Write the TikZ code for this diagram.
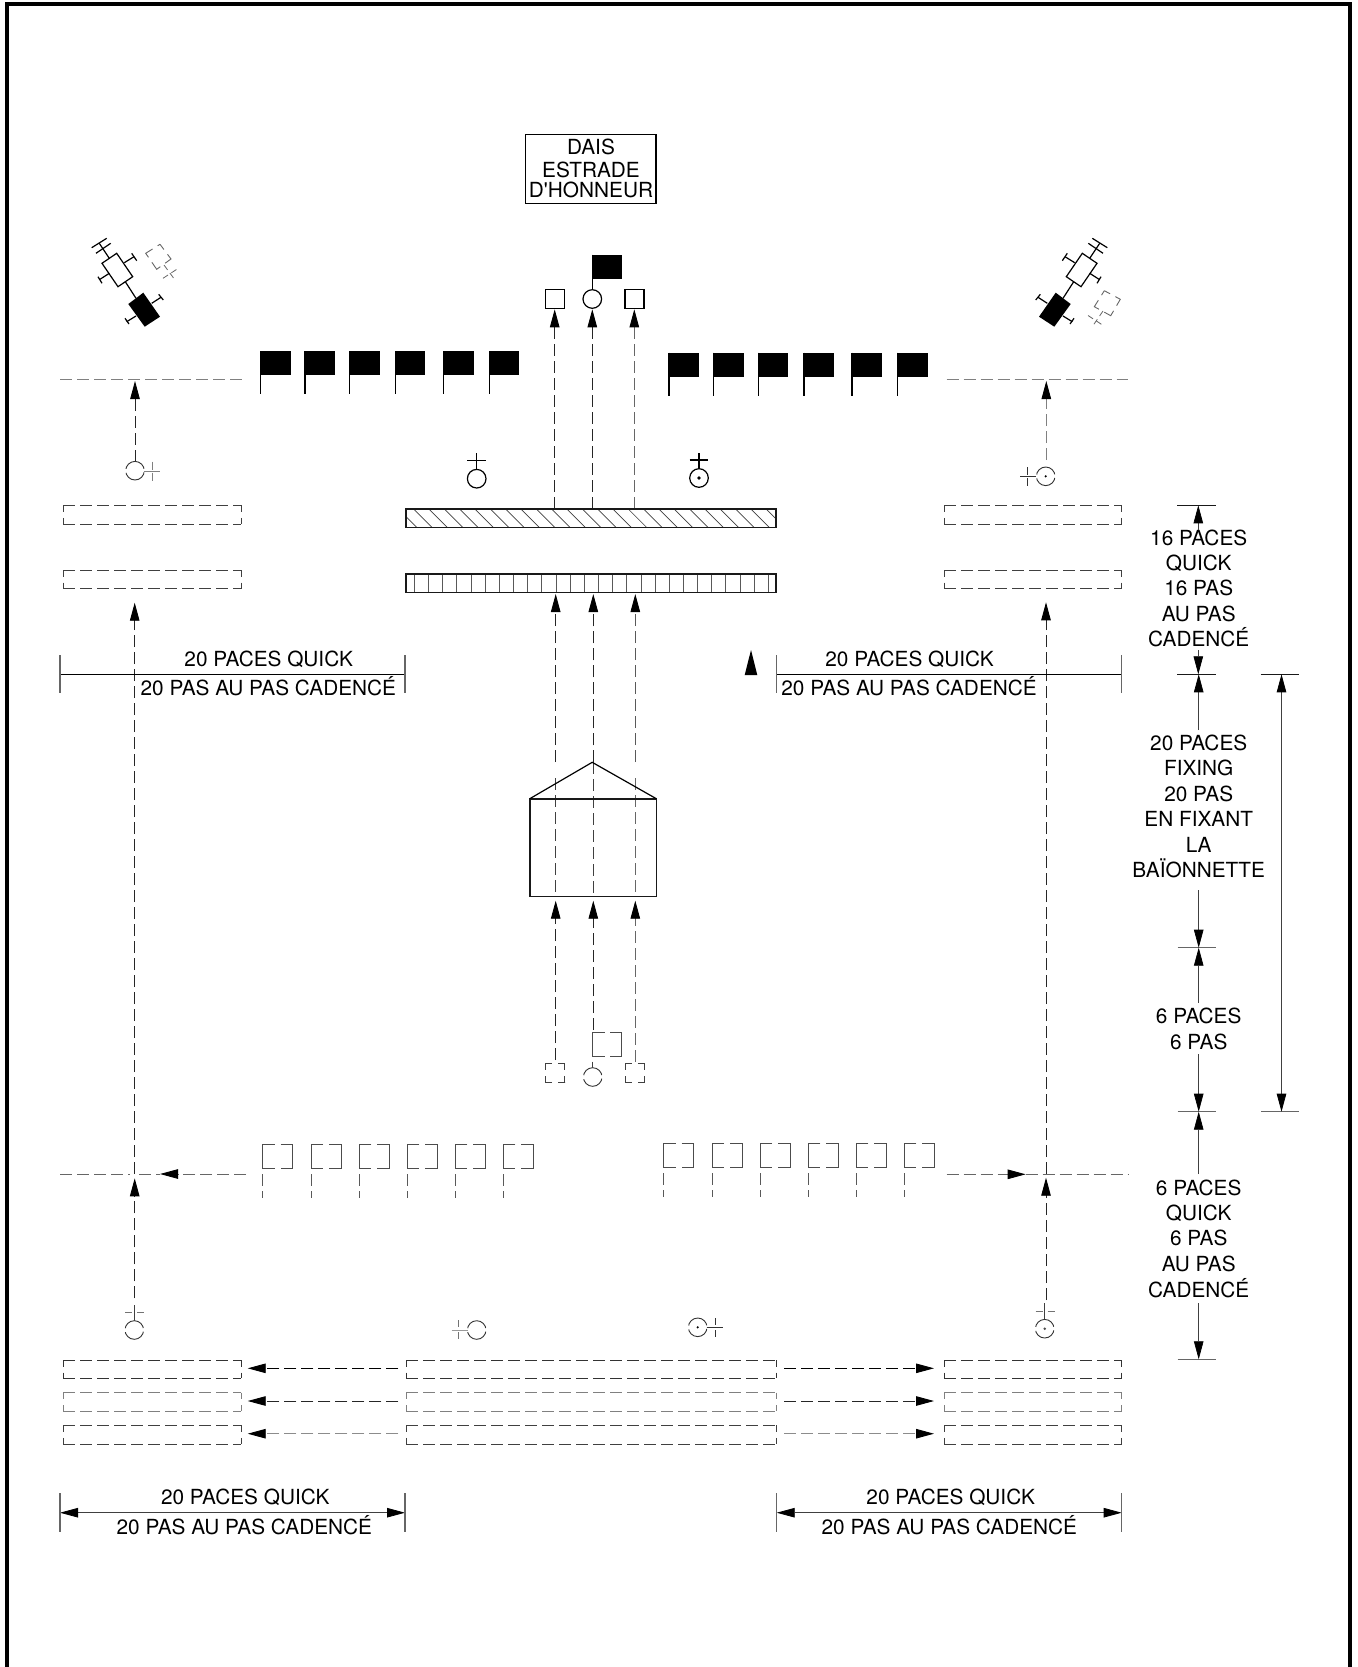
\documentclass[tikz,border=0pt]{standalone}
\usepackage{fontspec}
\setmainfont{TeX Gyre Heros}[Ligatures=TeXOff]
\usetikzlibrary{arrows.meta}
\tikzset{
  every node/.style={inner sep=0pt,outer sep=0pt,font=\fontsize{20.8}{24}\selectfont,align=center,text height=14.9pt,text depth=0pt},
  thin line/.style={line width=0.8pt,black!80},
  solid line/.style={line width=1.2pt,black},
  heavy line/.style={line width=1.6pt,black!90},
  dash line/.style={line width=0.9pt,black!75,dash pattern=on 12pt off 5pt},
  faint/.style={black!50},
  tick side/.style={line width=0.9pt,black!75,dash pattern=on 6.5pt off 6pt on 6.5pt off 0pt},
  pole line/.style={line width=0.9pt,black!65,dash pattern=on 12pt off 5pt on 6pt off 0pt},
  ring dash/.style={line width=0.9pt,black!80,dash pattern=on 25.2pt off 4pt,dash phase=27.2pt},
  blk/.tip={Triangle[length=18pt,width=9.5pt,sep=0pt,fill=black,color=black]},
  tip/.style={-{blk}},
  dimtip/.style={line width=0.7pt,black!75,-{blk}},
  dimboth/.style={line width=0.8pt,black!75,{blk}-{blk}},
  flat bar/.style={line width=1.2pt,black!60},
  move/.style={dash line,black!85,tip},
}
\newcommand{\blackflag}[2]{%
  \fill (#1,#2) rectangle ++(30,24.3);
  \draw[solid line] (#1,#2) -- ++(0,43);
}
\newcommand{\ghostflag}[2]{%
  \draw[line width=0.9pt,black!70] (#1+12,#2) -- (#1,#2) -- (#1,#2+24) -- (#1+12,#2+24);
  \draw[line width=0.9pt,black!70] (#1+18,#2) -- (#1+30,#2) -- (#1+30,#2+24) -- (#1+18,#2+24);
  \draw[pole line] (#1,#2+30) -- ++(0,23.5);
}
\newcommand{\ghostbar}[5][]{%
  \draw[dash line,#1] (#2,#3) -- (#4,#3);
  \draw[dash line,#1] (#2,#5) -- (#4,#5);
  \draw[tick side,#1] (#2,#3) -- (#2,#5);
  \draw[tick side,#1] (#4,#3) -- (#4,#5);
}
\newcommand{\ghostsq}[2]{%
  \draw[tick side] (#1,#2) -- ++(19,0) -- ++(0,19) -- ++(-19,0) -- cycle;
}
\newcommand{\partygroup}{%
  \draw[solid line,fill=white] (116.7,253.3) -- (132.7,276.7) -- (118,286.7) -- (102,263.3) -- cycle;
  \fill (143.3,292.7) -- (160,316.7) -- (144.7,326.7) -- (128.3,304) -- cycle;
  \draw[solid line] (125.3,281.7) -- (136,298.3);
  \draw[solid line] (109.3,258.3) -- (99.3,243.3);
  \draw[solid line] (91.7,247.7) -- (106.7,238.3);
  \draw[solid line] (96,253.3) -- (110.7,243.3);
  \draw[solid line] (109.3,273.3) -- (100,279.3);
  \draw[solid line] (98,276.7) -- (102,283.3);
  \draw[solid line] (124.3,262.7) -- (134,256.7);
  \draw[solid line] (131.7,253.3) -- (136.7,260.7);
  \draw[solid line] (136,316) -- (126.7,321.7);
  \draw[solid line] (125,318.3) -- (129,324);
  \draw[solid line] (151.7,303.3) -- (161,297.3);
  \draw[solid line] (158.7,294.3) -- (163.3,300);
}
\begin{document}
\begin{tikzpicture}[x=1pt,y=-1pt]
\useasboundingbox (0,0) rectangle (1357,1667);
\fill[white] (0,0) rectangle (1357,1667);
% frame
\draw[line width=4pt] (7,1667) -- (7,4) -- (1350,4) -- (1350,1667);

% dais
\draw[line width=1.3pt] (525.7,134.7) rectangle (656,203.3);
\node (dais1) at (591,147) {DAIS};
\node (dais2) at (591,170) {ESTRADE};
\node (dais3) at (591,190) {D'HONNEUR};

% party groups
\partygroup
\begin{scope}[shift={(1199,0)},xscale=-1]
\partygroup
\end{scope}
% ghost party left
\draw[tick side,black!60] (160,244.3) -- (171,259) -- (156.7,269.3) -- (145.7,253.3) -- cycle;
\draw[line width=0.8pt,black!60,dash pattern=on 6pt off 4pt] (164,265) -- (175,280);
\draw[line width=0.8pt,black!60,dash pattern=on 6pt off 4pt] (163,278.3) -- (178.3,268.3);
% ghost party right
\draw[tick side,black!60] (1104.3,290.7) -- (1120.3,299.3) -- (1110.7,315.7) -- (1094.3,306.7) -- cycle;
\draw[line width=0.8pt,black!60,dash pattern=on 6pt off 4pt] (1088,315.5) -- (1104,326);
\draw[line width=0.8pt,black!60,dash pattern=on 6pt off 4pt] (1103,311) -- (1092,327);

% front flags
\foreach \fx in {260.5,305,349.7,395.3,443.7,489.3} {\blackflag{\fx}{351}}
\foreach \fx in {669,713.6,758.3,804,851.9,897.6} {\blackflag{\fx}{352.7}}

% centre party
\fill (592.3,254.7) rectangle (621.7,278.7);
\draw[solid line] (592.3,254.7) -- (592.3,290);
\draw[solid line] (592.3,299) circle[radius=9.3pt];
\draw[solid line] (545.7,289.7) rectangle (564.7,308.3);
\draw[solid line] (625,289.7) rectangle (644,308.3);

% upper lines
\draw[dash line,faint] (60,379) -- (245.6,379);
\draw[dash line,faint] (946.7,379) -- (1128.3,379);
\draw[move] (135,461.7) -- (135,381);
\draw[move,faint] (1046.3,460) -- (1046.3,381);
\draw[move] (554.7,508.7) -- (554.7,309.3);
\draw[move] (592.3,508.7) -- (592.3,309.3);
\draw[move,black!60] (634.3,508.7) -- (634.3,309.3);

% symbols upper row
\draw[ring dash] (135,470.7) circle[radius=9.3pt];
\draw[line width=0.8pt,black!50] (144,471) -- (160,471);
\draw[line width=0.8pt,black!50,dash pattern=on 8pt off 3pt] (152.7,461.7) -- (152.7,480.7);
\draw[solid line] (476.7,478.7) circle[radius=9.3pt];
\draw[solid line] (476.7,469.4) -- (476.7,453.3);
\draw[solid line] (467,460.5) -- (486,460.5);
\draw[solid line] (699,478) circle[radius=9.3pt];
\fill (699,478) circle[radius=1.8pt];
\draw[solid line] (699,468.7) -- (699,452.7);
\draw[solid line] (689.7,460) -- (708.3,460);
\draw[ring dash] (1045.7,476.3) circle[radius=9.3pt];
\fill (1045.7,476.3) circle[radius=1.2pt];
\draw[line width=0.8pt,black!80] (1020,476.3) -- (1036,476.3);
\draw[line width=0.8pt,black!80,dash pattern=on 8pt off 3pt] (1027.3,467.3) -- (1027.3,486);

% ranks, upper
\ghostbar{63.3}{505.3}{241}{524}
\ghostbar{63.3}{570}{241}{588.7}
\ghostbar{944.3}{505.3}{1121.7}{524}
\ghostbar{944.3}{570}{1121.7}{588.3}

% hatched bar
\begin{scope}
\clip (406,508.7) rectangle (776,527.3);
\foreach \hx in {0,...,25} {\draw[line width=0.7pt,black!75] (398+\hx*15.33,508.7) -- ++(18.6,18.6);}
\end{scope}
\draw[heavy line] (406,508.7) rectangle (776,527.3);
% ruled bar
\foreach \gx in {0,...,25} {\draw[line width=0.7pt,black!65] (414.3+\gx*14.16,573.7) -- ++(0,18.6);}
\draw[heavy line] (406,573.7) rectangle (776,592.3);

% long side arrows
\draw[move] (134.7,1174) -- (134.7,602.7);
\draw[move] (1046,1174) -- (1046,602.3);
\draw[move] (134.7,1298.3) -- (134.7,1178.3);
\draw[move] (1046,1300) -- (1046,1177.7);

% centre arrows
\draw[move] (555.7,762) -- (555.7,594);
\draw[move] (593.3,762.3) -- (593.3,594);
\draw[move,black!65] (635.3,762) -- (635.3,594);
\draw[dash line] (555.5,778) -- (555.5,896);
\draw[dash line] (593,762) -- (593,896);
\draw[dash line,black!60] (635.5,778) -- (635.5,896);
\draw[heavy line] (529.8,798.7) rectangle (656.3,896.3);
\draw[solid line] (529.8,798.7) -- (592.2,762.3) -- (656.3,798.7);
\draw[move] (555.7,1060) -- (555.7,900.7);
\draw[move] (593.3,1030) -- (593.3,900.7);
\draw[move,black!60] (635.3,1061.7) -- (635.3,900.7);

% ghost centre party
\ghostsq{545.7}{1063.3}
\ghostsq{625.3}{1063.3}
\draw[ring dash] (592.7,1077) circle[radius=9.3pt];
\draw[line width=0.9pt,black!75] (592.7,1061.7) -- (592.7,1067.7);
\draw[line width=0.9pt,black!70] (604.7,1032.7) -- (592.7,1032.7) -- (592.7,1056.7) -- (604.7,1056.7);
\draw[line width=0.9pt,black!70] (610,1032.7) -- (621.7,1032.7) -- (621.7,1056.7) -- (610,1056.7);

% ghost flags
\foreach \fx in {262.7,311,359.3,407.3,455.3,503.3} {\ghostflag{\fx}{1144.3}}
\foreach \fx in {663.7,712,760,808.3,856.3,904.3} {\ghostflag{\fx}{1143.3}}

% lower lines
\draw[dash line,black!60] (60,1174) -- (130,1174);
\draw[dash line,black!60] (139,1174) -- (160,1174);
\draw[move,black!60] (246,1174) -- (160,1174);
\draw[move,black!60] (946.5,1174.3) -- (1025.7,1174.3);
\draw[dash line,black!60] (1025.7,1174.3) -- (1128.3,1174.3);

% symbols lower row
\draw[ring dash] (134.3,1330) circle[radius=9.3pt];
\draw[line width=0.9pt,black!75] (134.3,1305) -- (134.3,1320.5);
\draw[line width=0.8pt,black!55,dash pattern=on 7pt off 5pt] (125,1312) -- (144,1312);
\draw[ring dash] (476.7,1330) circle[radius=9.3pt];
\draw[line width=0.8pt,black!40] (451.7,1330) -- (467.7,1330);
\draw[line width=0.8pt,black!55,dash pattern=on 7pt off 5pt] (458.7,1320) -- (458.7,1339.3);
\draw[ring dash] (697.7,1327.3) circle[radius=9.3pt];
\fill (697.7,1327.3) circle[radius=1.2pt];
\draw[line width=0.8pt,black!80] (706.7,1327.3) -- (723.3,1327.3);
\draw[line width=0.8pt,black!80,dash pattern=on 7pt off 5pt] (715.3,1318.3) -- (715.3,1337.3);
\draw[ring dash] (1044.7,1328.7) circle[radius=9.3pt];
\fill[black!70] (1044.7,1328.7) circle[radius=1.4pt];
\draw[line width=0.9pt,black!75] (1044.7,1303.3) -- (1044.7,1319.3);
\draw[line width=0.8pt,black!55,dash pattern=on 7pt off 5pt] (1035.7,1311) -- (1054.7,1311);

% lower ranks
\foreach \ya/\yb/\ss in {1360/1378.3/black!80,1392.7/1411.3/black!50,1425.3/1444/black!75} {
  \ghostbar[\ss]{63.3}{\ya}{241}{\yb}
  \ghostbar[\ss]{406}{\ya}{776}{\yb}
  \ghostbar[\ss]{944.3}{\ya}{1121.7}{\yb}
}
\foreach \ya/\ss in {1368.3/black,1401/black!85,1433.7/black!45} {
  \draw[move,\ss] (398.3,\ya) -- (247.7,\ya);
  \draw[move,\ss] (784,\ya) -- (934,\ya);
}

% horizontal dimensions, middle
\draw[line width=1pt] (60,674.3) -- (405,674.3);
\draw[flat bar] (60,655) -- (60,693.3);
\draw[flat bar] (405,655) -- (405,693.3);
\node (q1) at (268.7,659) {20 PACES QUICK};
\node (p1) at (268.3,688.3) {20 PAS AU PAS CADENCÉ};
\draw[line width=1pt] (776.5,674.3) -- (1121.7,674.3);
\draw[flat bar,line width=0.9pt] (776.5,655) -- (776.5,693.3);
\draw[flat bar,line width=0.9pt] (1121.7,655) -- (1121.7,693.3);
\node (q2) at (909.6,658.7) {20 PACES QUICK};
\node (p2) at (909,687.7) {20 PAS AU PAS CADENCÉ};
\fill (751,650) -- (757.3,675) -- (744.7,675) -- cycle;

% horizontal dimensions, lower
\draw[dimboth] (60,1512.7) -- (405,1512.7);
\draw[flat bar] (60,1493.3) -- (60,1532.3);
\draw[flat bar] (405,1493.3) -- (405,1532.3);
\node (q3) at (245.3,1496.7) {20 PACES QUICK};
\node (p3) at (244.3,1526.7) {20 PAS AU PAS CADENCÉ};
\draw[dimboth] (776.7,1512.7) -- (1121.7,1512.7);
\draw[flat bar,line width=0.9pt] (776.7,1493.3) -- (776.7,1532.3);
\draw[flat bar,line width=0.9pt] (1121.7,1493.3) -- (1121.7,1532.3);
\node (q4) at (950.7,1496.7) {20 PACES QUICK};
\node (p4) at (949.3,1526.7) {20 PAS AU PAS CADENCÉ};

% vertical dimensions
\foreach \yy in {505.3,674.3} {\draw[line width=1pt,black!90] (1177.3,\yy) -- (1215.7,\yy);}
\draw[line width=1pt,black!90] (1260.7,674.3) -- (1299.3,674.3);
\foreach \yy in {947.7,1111.7,1359.3} {\draw[flat bar] (1177.7,\yy) -- (1216,\yy);}
\draw[flat bar] (1261,1111.7) -- (1299.3,1111.7);

\node (a1) at (1198.7,537.7) {16 PACES};
\node (a2) at (1198.7,562.6) {QUICK};
\node (a3) at (1198.7,588.3) {16 PAS};
\node (a4) at (1198.7,614) {AU PAS};
\node (a5) at (1198.7,639.3) {CADENCÉ};
\draw[dimtip] (1198.3,530) -- (1198.3,505.3);
\draw[dimtip] (1198.3,650) -- (1198.3,674.3);

\node (b1) at (1198.7,743.3) {20 PACES};
\node (b2) at (1198.7,768.3) {FIXING};
\node (b3) at (1198.7,794) {20 PAS};
\node (b4) at (1198.7,819.3) {EN FIXANT};
\node (b5) at (1198.7,845) {LA};
\node (b6) at (1198.7,870.3) {BAÏONNETTE};
\draw[dimtip] (1198.7,730) -- (1198.7,674.3);
\draw[dimtip] (1198.7,890) -- (1198.7,947.7);

\node (c1) at (1198.7,1015.7) {6 PACES};
\node (c2) at (1198.7,1041.7) {6 PAS};
\draw[dimtip] (1198.7,1002.7) -- (1198.7,947.7);
\draw[dimtip] (1198.7,1054) -- (1198.7,1111.7);

\node (d1) at (1198.7,1187.7) {6 PACES};
\node (d2) at (1198.7,1213) {QUICK};
\node (d3) at (1198.7,1238.3) {6 PAS};
\node (d4) at (1198.7,1264.3) {AU PAS};
\node (d5) at (1198.7,1290) {CADENCÉ};
\draw[dimtip] (1198.7,1174) -- (1198.7,1111.7);
\draw[dimtip] (1198.7,1303.3) -- (1198.7,1359.3);

\draw[dimboth] (1281.5,674.3) -- (1281.5,1111.7);
\end{tikzpicture}
\end{document}
